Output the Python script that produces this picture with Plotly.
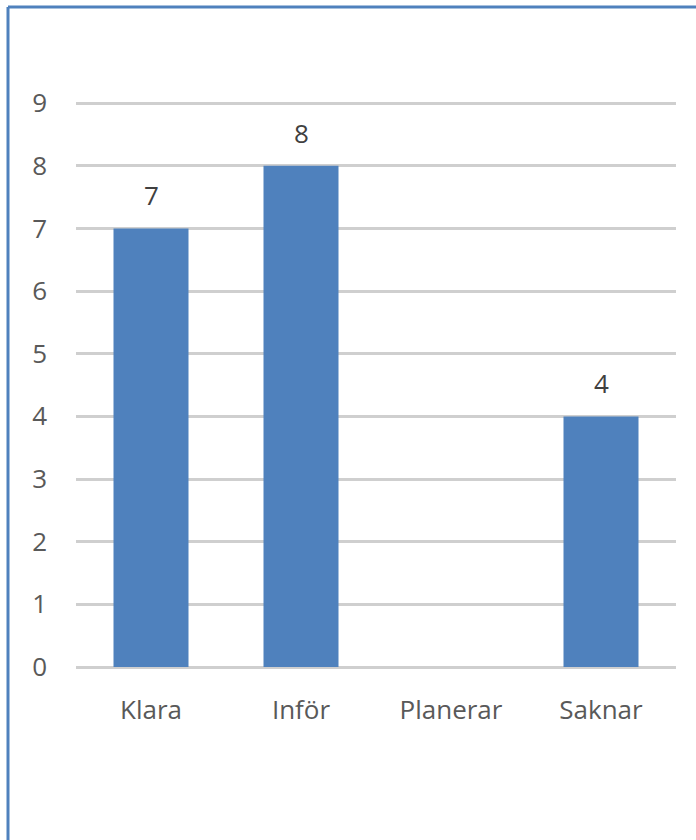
import plotly.graph_objects as go

# Antal per status
categories = ["Klara", "Inför", "Planerar", "Saknar"]
values = [7, 8, 0, 4]
y_ticks = [0, 1, 2, 3, 4, 5, 6, 7, 8, 9]

bar_color = "#4F81BD"
text_color = "#595959"
grid_color = "#CFCFCF"
font_family = "Open Sans, Liberation Sans, sans-serif"

W, H = 696, 840
ML, MR, MT, MB = 76, 20, 100, 173
plot_w = W - ML - MR
plot_h = H - MT - MB

fig = go.Figure(
    go.Bar(
        x=categories,
        y=values,
        marker=dict(color=bar_color, line=dict(width=0)),
        hoverinfo="x+y",
    )
)

# Value labels above the non-empty bars
for c, v in zip(categories, values):
    if v > 0:
        fig.add_annotation(
            x=c, y=v, text=str(v), showarrow=False,
            yanchor="bottom", yshift=13,
            font=dict(size=26, color="#404040", family=font_family),
        )

# Frame: blue lines along the left and top edges
def px_x(x):
    return (x - ML) / plot_w

def px_y(y):
    return (H - MB - y) / plot_h

frame = dict(color="#4F81BD", width=3)
fig.add_shape(type="line", xref="paper", yref="paper",
              x0=px_x(8), x1=px_x(W + 5), y0=px_y(7), y1=px_y(7), line=frame)
fig.add_shape(type="line", xref="paper", yref="paper",
              x0=px_x(8), x1=px_x(8), y0=px_y(7), y1=px_y(H + 5), line=frame)

fig.update_layout(
    width=W, height=H,
    margin=dict(l=ML, r=MR, t=MT, b=MB, pad=0),
    paper_bgcolor="white",
    plot_bgcolor="white",
    bargap=0.5,
    showlegend=False,
    font=dict(family=font_family, color=text_color, size=26),
    xaxis=dict(
        showgrid=False, zeroline=False, showline=False,
        ticks="", ticklabelstandoff=25,
        tickfont=dict(size=26, color=text_color),
        fixedrange=True,
    ),
    yaxis=dict(
        range=[0, 9.05], tickvals=y_ticks,
        showgrid=True, gridcolor=grid_color, gridwidth=2.5,
        zeroline=True, zerolinecolor=grid_color, zerolinewidth=2.5,
        showline=False, ticks="",
        ticklabelstandoff=28,
        tickfont=dict(size=26, color=text_color),
        fixedrange=True,
        layer="above traces",
    ),
)

fig.write_html("out.html")
